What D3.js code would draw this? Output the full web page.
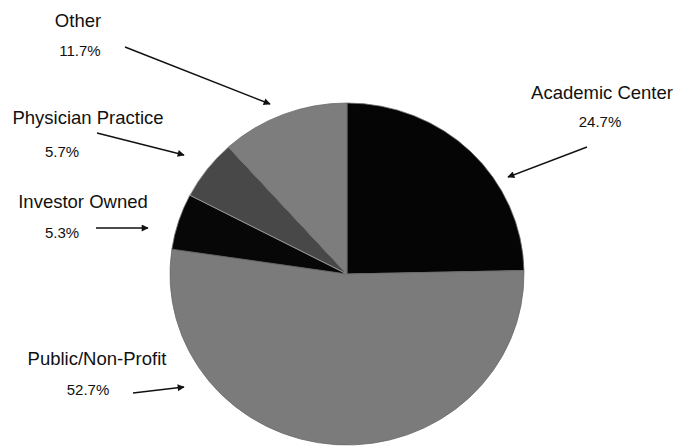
<!DOCTYPE html>
<html>
<head>
<meta charset="utf-8">
<script src="https://cdn.jsdelivr.net/npm/d3@7"></script>
<style>
  html, body { margin: 0; padding: 0; background: #fff; }
  svg { display: block; }
  text { font-family: "Liberation Sans", Arial, sans-serif; fill: #111; }
</style>
</head>
<body>
<svg id="chart" width="678" height="448"></svg>
<script>
// Hospital ownership shares, clockwise from 12 o'clock
const categories = ["Academic Center", "Public/Non-Profit", "Investor Owned", "Physician Practice", "Other"];
const shares = [24.7, 52.7, 5.3, 5.7, 11.7];
const fills = ["#050505", "#7b7b7b", "#070707", "#484848", "#7d7d7d"];

// Label layout: name position, percentage position, leader arrow tail -> head
const labelPos = [
  { x: 602, y: 99,  px: 600, py: 127, ax1: 587, ay1: 147, ax2: 508, ay2: 177 },
  { x: 97,  y: 365, px: 88,  py: 395, ax1: 133, ay1: 393, ax2: 184, ay2: 387 },
  { x: 83,  y: 208, px: 62,  py: 238, ax1: 96,  ay1: 228, ax2: 148, ay2: 228 },
  { x: 88,  y: 124, px: 62,  py: 157, ax1: 97,  ay1: 133, ax2: 184, ay2: 155 },
  { x: 78,  y: 27,  px: 80,  py: 56,  ax1: 125, ay1: 47,  ax2: 270, ay2: 104 }
];

const svg = d3.select("#chart");
const cx = 347, cy = 274, rx = 177, ry = 171;

const pie = d3.pie().sort(null).value(d => d);
const arc = d3.arc().innerRadius(0).outerRadius(rx);

// Pie is drawn slightly flattened vertically
const g = svg.append("g").attr("transform", `translate(${cx},${cy}) scale(1,${ry / rx})`);
g.selectAll("path")
  .data(pie(shares))
  .join("path")
  .attr("d", arc)
  .attr("fill", (d, i) => fills[i])
  .attr("stroke", (d, i) => i === 3 ? "#a8a8a8" : "#6a6a6a")
  .attr("stroke-width", 0.8)
  .attr("vector-effect", "non-scaling-stroke");

// Arrowhead marker
svg.append("defs").append("marker")
  .attr("id", "arrow")
  .attr("viewBox", "0 0 10 10")
  .attr("refX", 9).attr("refY", 5)
  .attr("markerWidth", 11).attr("markerHeight", 7)
  .attr("markerUnits", "userSpaceOnUse")
  .attr("orient", "auto")
  .append("path")
  .attr("d", "M0,0 L10,5 L0,10 Z")
  .attr("fill", "#111");

const labels = svg.append("g");
categories.forEach((name, i) => {
  const p = labelPos[i];
  labels.append("text")
    .attr("x", p.x).attr("y", p.y)
    .attr("text-anchor", "middle")
    .attr("font-size", 18.5)
    .text(name);
  labels.append("text")
    .attr("x", p.px).attr("y", p.py)
    .attr("text-anchor", "middle")
    .attr("font-size", 15)
    .text(shares[i].toFixed(1) + "%");
  labels.append("line")
    .attr("x1", p.ax1).attr("y1", p.ay1)
    .attr("x2", p.ax2).attr("y2", p.ay2)
    .attr("stroke", "#111")
    .attr("stroke-width", 1.4)
    .attr("marker-end", "url(#arrow)");
});
</script>
</body>
</html>
